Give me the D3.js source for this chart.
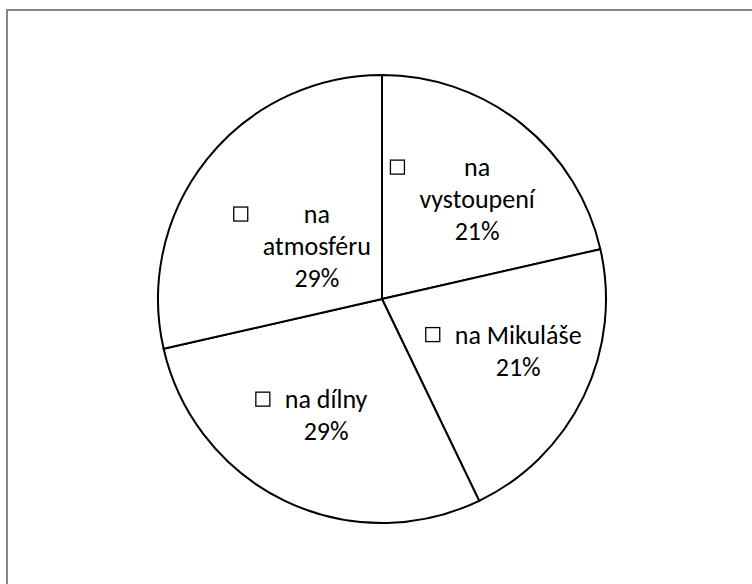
<!DOCTYPE html>
<html>
<head>
<meta charset="utf-8">
<script src="https://cdn.jsdelivr.net/npm/d3@7"></script>
<style>
    body { margin: 0; background: #fff; }
    svg { display: block; }
</style>
</head>
<body>
<div id="chart"></div>
<script>
// data
const categories = ["na vystoupení", "na Mikuláše", "na dílny", "na atmosféru"];
const counts = [3, 3, 4, 4];

// layout
const width = 752, height = 584;
const cx = 382, cy = 299, radius = 224;
const labelRadius = [0.616, 0.65, 0.575, 0.375];   // fraction of radius, per slice
const labelTurn = [5, -5, 0, 0.6];                  // degrees nudged from the slice middle
const wrapLabel = [true, false, false, true];
const lineHeight = 32;
const fontSize = 26;

const svg = d3.select("#chart")
    .append("svg")
    .attr("width", width)
    .attr("height", height)
    .style("font-family", "Calibri, Carlito, 'Liberation Sans', Arial, sans-serif");

svg.append("rect").attr("width", width).attr("height", height).attr("fill", "#fff");

// frame, only top and left edges are visible
svg.append("path")
    .attr("d", `M7,${height} V10 H${width}`)
    .attr("fill", "none")
    .attr("stroke", "#878787")
    .attr("stroke-width", 2);

const total = d3.sum(counts);
const data = categories.map((c, i) => ({ name: c, value: counts[i], i: i }));

const pie = d3.pie().sort(null).value(d => d.value);
const arcs = pie(data);
const arc = d3.arc().innerRadius(0).outerRadius(radius);

const g = svg.append("g").attr("transform", `translate(${cx},${cy})`);

g.selectAll("path.slice")
    .data(arcs)
    .join("path")
    .attr("class", "slice")
    .attr("d", arc)
    .attr("fill", "#fff")
    .attr("stroke", "#000")
    .attr("stroke-width", 2)
    .attr("stroke-linejoin", "round");

// labels with an empty legend key in front of the first line
arcs.forEach((a, k) => {
    const r = radius * labelRadius[k];
    const ang = (a.startAngle + a.endAngle) / 2 + labelTurn[k] * Math.PI / 180;
    const lx = r * Math.sin(ang), ly = -r * Math.cos(ang);
    const pct = Math.round(a.data.value / total * 100) + "%";
    const name = a.data.name;
    let lines;
    if (wrapLabel[k]) {
        const sp = name.indexOf(" ");
        lines = [name.slice(0, sp), name.slice(sp + 1), pct];
    } else {
        lines = [name, pct];
    }
    const top = ly - (lines.length - 1) * lineHeight / 2;

    const t = g.append("text")
        .attr("text-anchor", "middle")
        .attr("font-size", fontSize)
        .attr("fill", "#000");
    lines.forEach((ln, j) => {
        t.append("tspan")
            .attr("x", lx)
            .attr("y", top + j * lineHeight + fontSize * 0.35)
            .text(ln);
    });

    // key square sits left of the widest line
    let maxW = 0;
    t.selectAll("tspan").each(function () {
        maxW = Math.max(maxW, this.getComputedTextLength());
    });
    const firstBase = top + fontSize * 0.35;
    g.append("rect")
        .attr("x", lx - maxW / 2 - 29)
        .attr("y", firstBase - 16)
        .attr("width", 14)
        .attr("height", 14)
        .attr("fill", "#fff")
        .attr("stroke", "#000")
        .attr("stroke-width", 1.3);
});
</script>
</body>
</html>
